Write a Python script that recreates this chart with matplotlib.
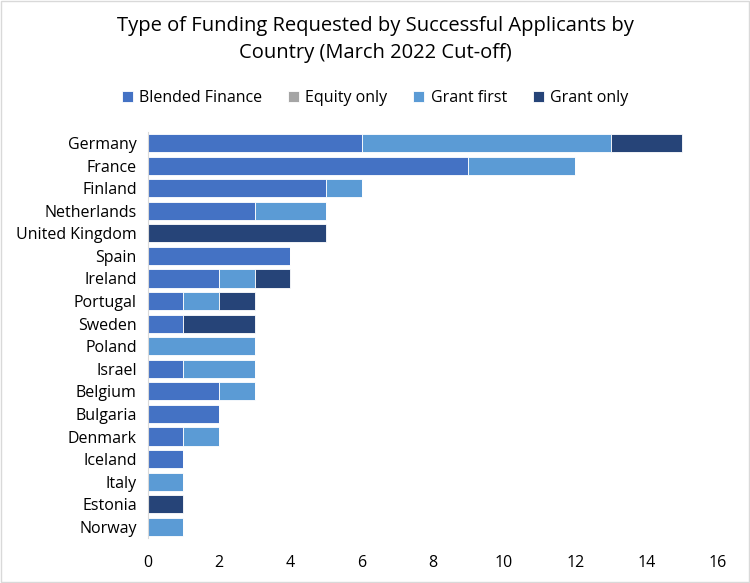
import matplotlib.pyplot as plt
import numpy as np

plt.rcParams['font.family'] = ['Open Sans', 'DejaVu Sans']

countries = ['Germany', 'France', 'Finland', 'Netherlands', 'United Kingdom', 'Spain',
             'Ireland', 'Portugal', 'Sweden', 'Poland', 'Israel', 'Belgium', 'Bulgaria',
             'Denmark', 'Iceland', 'Italy', 'Estonia', 'Norway']
blended = [6, 9, 5, 3, 0, 4, 2, 1, 1, 0, 1, 2, 2, 1, 1, 0, 0, 0]
equity = [0] * 18
grant_first = [7, 3, 1, 2, 0, 0, 1, 1, 0, 3, 2, 1, 0, 1, 0, 1, 0, 1]
grant_only = [2, 0, 0, 0, 5, 0, 1, 1, 2, 0, 0, 0, 0, 0, 0, 0, 1, 0]

series = [('Blended Finance', blended, '#4472C4'),
          ('Equity only', equity, '#A5A5A5'),
          ('Grant first', grant_first, '#5B9BD5'),
          ('Grant only', grant_only, '#264478')]

fig = plt.figure(figsize=(7.5, 5.83), dpi=100)
ax = fig.add_axes([0.197, 0.077, 0.76, 0.697])

y = np.arange(len(countries))
left = np.zeros(len(countries))
for name, vals, col in series:
    vals = np.array(vals, dtype=float)
    ax.barh(y, vals, left=left, height=0.8, color=col, edgecolor='white',
            linewidth=0.6, label=name)
    left += vals

ax.set_yticks(y)
ax.set_yticklabels(countries, fontsize=11.5)
ax.set_ylim(len(countries) - 0.5, -0.5)
ax.set_xlim(0, 16)
ax.set_xticks(range(0, 17, 2))
ax.tick_params(axis='x', labelsize=11.5, length=0, pad=12)
ax.tick_params(axis='y', length=0, pad=8)
for s in ['top', 'right', 'bottom']:
    ax.spines[s].set_visible(False)
ax.spines['left'].set_color('#D9D9D9')

fig.suptitle('Type of Funding Requested by Successful Applicants by\nCountry (March 2022 Cut-off)',
             fontsize=14.5, y=0.972, linespacing=1.45)
fig.legend(loc='center', bbox_to_anchor=(0.5, 0.832), ncol=4, frameon=False,
           fontsize=11.5, handlelength=0.7, handleheight=0.7, columnspacing=1.6,
           handletextpad=0.4)

fig.patches.append(plt.Rectangle((0.001, 0.001), 0.998, 0.998, transform=fig.transFigure,
                                 fill=False, edgecolor='#D9D9D9', linewidth=1))

fig.savefig('out.png', dpi=100)
